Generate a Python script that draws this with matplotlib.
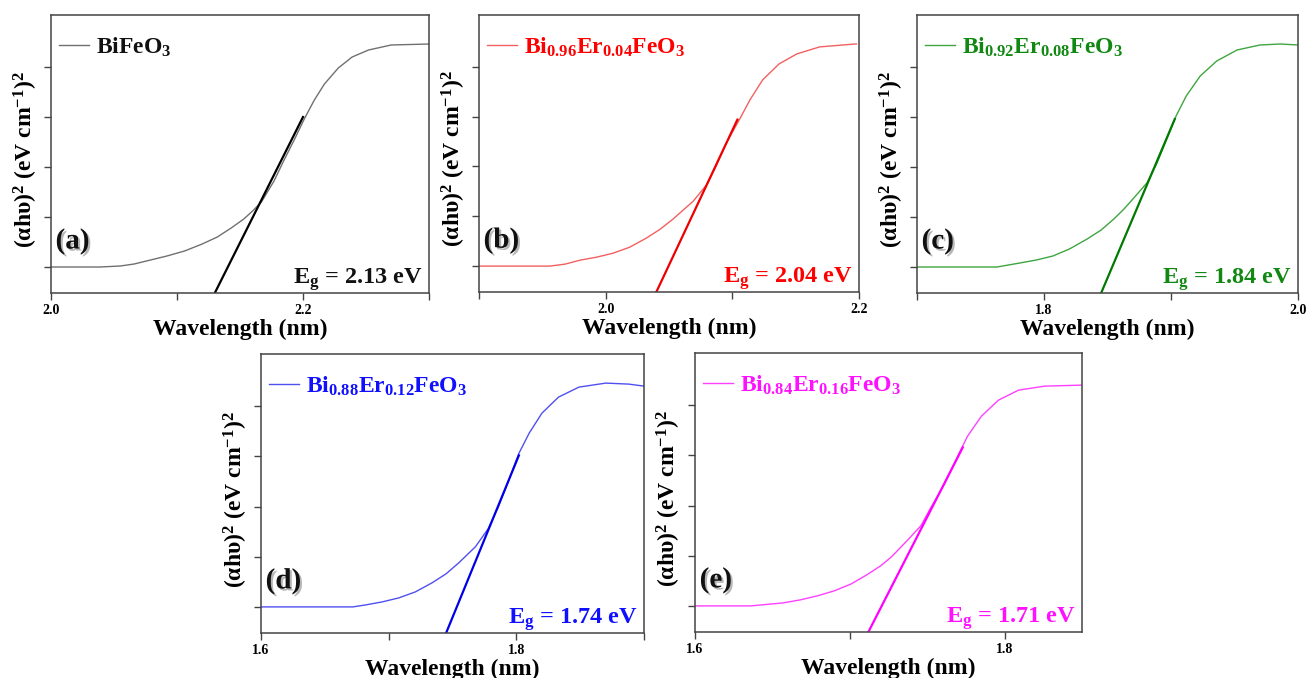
import matplotlib
matplotlib.use('Agg')
import matplotlib.pyplot as plt
import matplotlib.patheffects as pe
from matplotlib.ticker import MultipleLocator, FormatStrFormatter

plt.rcParams['font.family'] = 'Liberation Serif'
plt.rcParams['font.weight'] = 'bold'
plt.rcParams['mathtext.fontset'] = 'custom'
plt.rcParams['mathtext.rm'] = 'Liberation Serif:bold'
plt.rcParams['mathtext.it'] = 'Liberation Serif:bold'
plt.rcParams['mathtext.bf'] = 'Liberation Serif:bold'

# (a) BiFeO3
a_x = [2.000, 2.039, 2.055, 2.066, 2.079, 2.092, 2.106, 2.120, 2.132, 2.143, 2.153,
       2.160, 2.167, 2.177, 2.185, 2.193, 2.201, 2.209, 2.217, 2.228, 2.239, 2.252,
       2.270, 2.300]
a_y = [0.00, 0.00, 0.01, 0.03, 0.07, 0.11, 0.16, 0.23, 0.30, 0.39, 0.48,
       0.56, 0.65, 0.86, 1.07, 1.27, 1.48, 1.67, 1.83, 1.99, 2.10, 2.17,
       2.22, 2.23]
a_fit_x = [2.130, 2.200]
a_fit_y = [-0.26, 1.50]

# (b) Bi0.96Er0.04FeO3
b_x = [1.900, 1.956, 1.968, 1.980, 1.993, 2.006, 2.019, 2.032, 2.043, 2.053, 2.061,
       2.069, 2.080, 2.087, 2.095, 2.106, 2.114, 2.124, 2.137, 2.151, 2.169, 2.198]
b_y = [0.00, 0.00, 0.02, 0.06, 0.09, 0.13, 0.19, 0.28, 0.37, 0.47, 0.56,
       0.65, 0.82, 1.00, 1.23, 1.48, 1.67, 1.87, 2.03, 2.13, 2.20, 2.23]
b_fit_x = [2.040, 2.104]
b_fit_y = [-0.26, 1.47]

# (c) Bi0.92Er0.08FeO3
c_x = [1.700, 1.763, 1.772, 1.781, 1.794, 1.807, 1.820, 1.834, 1.845, 1.855, 1.863,
       1.870, 1.881, 1.889, 1.897, 1.904, 1.912, 1.923, 1.936, 1.952, 1.970, 1.986,
       2.000]
c_y = [0.00, 0.00, 0.02, 0.04, 0.07, 0.11, 0.18, 0.28, 0.37, 0.48, 0.58,
       0.68, 0.84, 1.04, 1.29, 1.51, 1.71, 1.91, 2.06, 2.17, 2.22, 2.23,
       2.22]
c_fit_x = [1.845, 1.903]
c_fit_y = [-0.26, 1.48]

# (d) Bi0.88Er0.12FeO3
d_x = [1.600, 1.672, 1.682, 1.695, 1.708, 1.721, 1.734, 1.745, 1.755, 1.768, 1.778,
       1.786, 1.794, 1.802, 1.810, 1.820, 1.833, 1.849, 1.870, 1.888, 1.900]
d_y = [0.00, 0.00, 0.02, 0.05, 0.09, 0.15, 0.24, 0.33, 0.44, 0.60, 0.78,
       1.00, 1.26, 1.53, 1.73, 1.93, 2.09, 2.19, 2.23, 2.22, 2.20]
d_fit_x = [1.745, 1.802]
d_fit_y = [-0.26, 1.51]

# (e) Bi0.84Er0.16FeO3
e_x = [1.600, 1.636, 1.657, 1.668, 1.679, 1.690, 1.701, 1.711, 1.720, 1.727, 1.737,
       1.746, 1.752, 1.761, 1.770, 1.776, 1.785, 1.796, 1.809, 1.826, 1.850]
e_y = [0.00, 0.00, 0.03, 0.06, 0.10, 0.15, 0.22, 0.31, 0.40, 0.49, 0.65,
       0.80, 0.97, 1.21, 1.50, 1.69, 1.89, 2.05, 2.15, 2.19, 2.20]
e_fit_x = [1.712, 1.773]
e_fit_y = [-0.26, 1.58]

names = ['BiFeO$_3$',
         'Bi$_{0.96}$Er$_{0.04}$FeO$_3$',
         'Bi$_{0.92}$Er$_{0.08}$FeO$_3$',
         'Bi$_{0.88}$Er$_{0.12}$FeO$_3$',
         'Bi$_{0.84}$Er$_{0.16}$FeO$_3$']
tags = ['(a)', '(b)', '(c)', '(d)', '(e)']
eg_values = [2.13, 2.04, 1.84, 1.74, 1.71]
x_limits = [(2.0, 2.30), (1.90, 2.20), (1.70, 2.00), (1.60, 1.90), (1.60, 1.85)]

curve_colors = ['#707070', '#f26060', '#3fa53f', '#5050f0', '#ff40ff']
fit_colors = ['#000000', '#ee0000', '#007a00', '#0000e6', '#ff00ff']
text_colors = ['#111111', '#ff0000', '#118811', '#1010ff', '#ff11ff']

curves = [(a_x, a_y, a_fit_x, a_fit_y), (b_x, b_y, b_fit_x, b_fit_y),
          (c_x, c_y, c_fit_x, c_fit_y), (d_x, d_y, d_fit_x, d_fit_y),
          (e_x, e_y, e_fit_x, e_fit_y)]

# axes boxes in pixels: left, top, right, bottom
W, H = 1309, 678
boxes = [(51, 15, 429, 293), (479, 15, 859, 292), (917, 15, 1298, 293),
         (261, 354, 644, 633), (695, 353, 1082, 632)]

fig = plt.figure(figsize=(W / 100, H / 100), dpi=100)

for i in range(5):
    l, t, r, b = boxes[i]
    ax = fig.add_axes([l / W, 1 - b / H, (r - l) / W, (b - t) / H])
    x, y, fx, fy = curves[i]
    ax.plot(x, y, color=curve_colors[i], lw=1.0, label=names[i], solid_joinstyle='round')
    ax.plot(fx, fy, color=fit_colors[i], lw=1.6)
    ax.set_xlim(*x_limits[i])
    ax.set_ylim(-0.26, 2.52)
    ax.xaxis.set_major_locator(MultipleLocator(0.2))
    ax.xaxis.set_minor_locator(MultipleLocator(0.1))
    ax.xaxis.set_major_formatter(FormatStrFormatter('%.1f'))
    ax.set_yticks([0, 1, 2])
    ax.set_yticks([0.5, 1.5], minor=True)
    ax.set_yticklabels([])
    ax.tick_params(which='both', direction='out', length=5, width=1, color='#444444',
                   labelsize=10, pad=3)
    for lab in ax.get_xticklabels():
        lab.set_fontweight('bold')
    for s in ax.spines.values():
        s.set_color('#444444')
        s.set_linewidth(1.1)
    ax.set_xlabel('Wavelength (nm)', fontsize=17, fontweight='bold', labelpad=1)
    ax.set_ylabel('(αhυ)$^2$ (eV cm$^{-1}$)$^2$', fontsize=17, fontweight='bold')
    ax.yaxis.set_label_coords(-0.03, 0.48)
    leg = ax.legend(loc='upper left', frameon=False, fontsize=17, handlelength=1.3,
                    handletextpad=0.3, borderaxespad=0.0, bbox_to_anchor=(-0.005, 0.96))
    for txt in leg.get_texts():
        txt.set_color(text_colors[i])
    ax.text(0.985, 0.035, 'E$_g$ = %.2f eV' % eg_values[i], transform=ax.transAxes,
            ha='right', va='baseline', fontsize=17.5, fontweight='bold', color=text_colors[i])
    ax.text(0.012, 0.16, tags[i], transform=ax.transAxes, ha='left', va='baseline',
            fontsize=21, fontweight='bold', color='#111111',
            path_effects=[pe.withSimplePatchShadow(offset=(1.5, -1.5), shadow_rgbFace='#888888', alpha=0.6)])

fig.savefig('out.png', dpi=100)
